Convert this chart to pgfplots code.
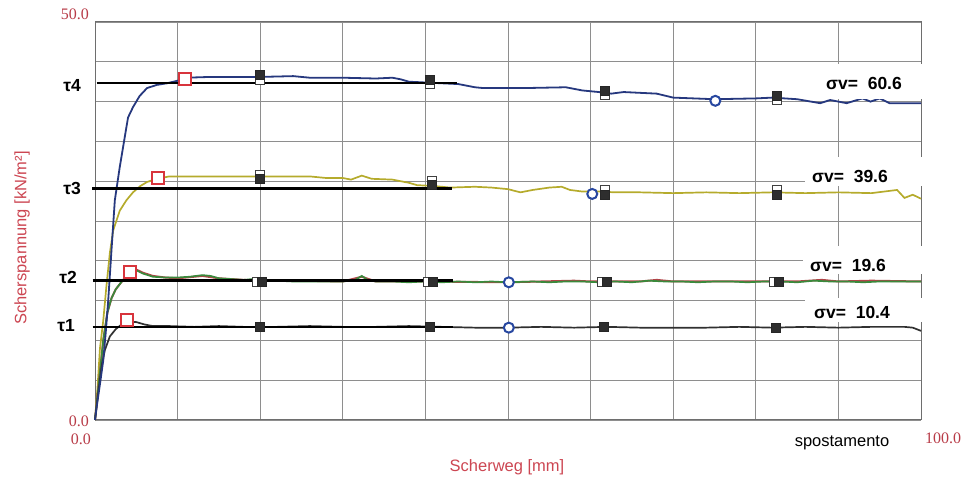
\documentclass[border=0pt]{standalone}
\usepackage{fontspec}
\setmainfont{Liberation Sans}
\newfontfamily\numfont{Liberation Serif}
\usepackage{pgfplots}
\pgfplotsset{compat=1.18}

\definecolor{gridgray}{HTML}{8E8E8E}
\definecolor{framegray}{HTML}{6E6E6E}
\definecolor{titlered}{HTML}{CC4652}
\definecolor{tickred}{HTML}{B83C48}
\definecolor{cA}{HTML}{26387E}% sigma_v = 60.6
\definecolor{cB}{HTML}{B5AB2C}% sigma_v = 39.6
\definecolor{cC}{HTML}{3A8A3C}% sigma_v = 19.6
\definecolor{cCr}{HTML}{B04448}
\definecolor{cD}{HTML}{303030}% sigma_v = 10.4
\definecolor{peakred}{HTML}{D8343C}
\definecolor{ringblue}{HTML}{2747A0}

% place things by picture position (x to the right, y downward from the top)
\newcommand{\px}[2]{({#1pt-95pt},{420pt-#2pt})}
\newcommand{\fs}[1]{\fontsize{#1}{#1}\selectfont}

\begin{document}
\begin{tikzpicture}
\path[use as bounding box] (-95pt,-61pt) rectangle (869pt,420pt);
\begin{axis}[
  at={(0pt,0pt)}, anchor=south west,
  scale only axis, width=826pt, height=398pt,
  xmin=0, xmax=100, ymin=0, ymax=50,
  xtick={0,10,...,100}, ytick={0,5,...,50},
  xticklabels={}, yticklabels={},
  major tick length=0pt,
  grid=major,
  major grid style={gridgray, line width=0.9pt},
  axis line style={framegray, line width=1pt},
  clip=false,
]
% shear curves
\addplot[cB, line width=1.7pt] coordinates {
(0,0)(0.3,4)(0.6,9)(1.0,12.5)(1.4,17)(1.8,21)(2.2,23.8)(3,26.3)(3.8,27.6)(4.6,28.6)(5.5,29.4)(6.3,29.9)(7.5,30.3)(9,30.6)
(14,30.6)(20,30.6)(24,30.6)(26,30.6)(28,30.4)(30,30.4)(31,30.2)(32.3,30.7)(33.5,30.3)(36,30.2)(38,29.8)(39,29.5)(41,29.4)
(43,29.2)(46,29.3)(48,29.2)(50,29.0)(51.5,28.6)(53,28.9)(55,29.2)(56.5,29.3)(57.5,28.9)(59,28.7)(61,28.7)(63,28.6)(66,28.6)
(70,28.5)(74,28.6)(78,28.5)(82,28.6)(86,28.5)(90,28.6)(94,28.5)(97.1,28.9)(98,27.9)(99,28.3)(100,27.8)};
\addplot[cCr, line width=2pt] coordinates {
(0,0)(0.5,5)(1,10)(1.5,13.5)(2,15.3)(2.5,16.4)(3.4,17.6)(4.2,18.5)(5,18.9)(5.8,18.5)(7,18.1)(8.5,17.9)(10,17.8)
(12,18.0)(13,18.1)(15,17.8)(18,17.6)(20,17.5)(25,17.5)(30,17.4)(32.3,18.0)(34,17.4)(40,17.4)(50,17.3)(58,17.5)(60,17.4)
(66,17.4)(68,17.6)(70,17.4)(85,17.4)(88,17.6)(90,17.4)(94,17.5)(100,17.4)};
\addplot[cC, line width=1.7pt] coordinates {
(0,0)(0.5,5)(1,10)(1.5,13.5)(2,15.3)(2.5,16.4)(3.4,17.6)(4.2,18.5)(5,18.8)(5.8,18.4)(7,18.0)(8.5,17.9)(10,17.9)
(11.5,18.0)(13,18.2)(14,18.1)(15,17.8)(16.5,17.7)(18,17.6)(19,17.7)(20,17.5)(22,17.5)(24,17.4)(26,17.4)(28,17.4)(30,17.4)
(31.5,17.6)(32.3,18.1)(33,17.6)(34,17.4)(36,17.4)(38,17.3)(40,17.4)(42,17.3)(44,17.4)(46,17.3)(48,17.4)(50,17.3)(53,17.4)
(55,17.3)(57,17.4)(59,17.4)(61,17.3)(63,17.4)(65,17.3)(67,17.5)(69,17.4)(71,17.4)(73,17.3)(75,17.4)(77,17.4)(79,17.3)
(81,17.4)(83,17.4)(85,17.3)(87,17.5)(89,17.4)(91,17.4)(93,17.3)(95,17.4)(97,17.4)(100,17.4)};
\addplot[cD, line width=1.7pt] coordinates {
(0,0)(0.4,3.5)(0.8,6.8)(1.2,8.8)(1.8,10.5)(2.5,11.4)(3.2,12.0)(3.9,12.3)(5,12.3)(6,12.0)(7,11.8)(9,11.8)(12,11.7)
(15,11.8)(18,11.7)(22,11.7)(26,11.8)(30,11.7)(34,11.7)(38,11.8)(42,11.7)(46,11.6)(50,11.6)(54,11.7)(58,11.6)(62,11.7)
(66,11.6)(70,11.6)(74,11.6)(78,11.7)(82,11.6)(86,11.7)(90,11.6)(94,11.7)(98,11.7)(99,11.6)(100,11.2)};
\addplot[cA, line width=1.8pt] coordinates {
(0,0)(0.2,1.6)(0.6,4.5)(1.0,7.5)(1.3,11)(1.6,15)(2.0,21.4)(2.4,27.6)(3.0,31.8)(4.0,38)(4.6,39.3)(5.4,40.7)(6.3,41.7)
(7.5,42.1)(8.7,42.3)(10.3,42.7)(11,43.0)(14,43.1)(20,43.1)(24,43.2)(26,43.0)(30,43.0)(34,42.9)(36,43.0)(37,42.8)(38,42.5)
(40,42.4)(42,42.3)(44,42.2)(46,41.8)(47,41.7)(52,41.7)(57,41.8)(59,41.4)(61,41.2)(62.5,41.0)(64,41.2)(66,41.1)(68,41.0)
(70,40.5)(75,40.3)(80,40.4)(82,40.5)(85,40.3)(87.8,39.8)(89,40.2)(91,39.8)(92.9,40.4)(93.9,40.0)(95,40.4)(96.2,39.8)
(98,39.8)(100,39.8)};
% residual shear strength levels
\addplot[black, line width=2.4pt] coordinates {(0.2,42.3)(43.8,42.3)};
\addplot[black, line width=2.4pt] coordinates {(-0.35,29.1)(43.2,29.1)};
\addplot[black, line width=2.4pt] coordinates {(-0.3,17.5)(43.3,17.5)};
\addplot[black, line width=2.4pt] coordinates {(-0.3,11.7)(43.3,11.7)};
% open / filled reading marks
\addplot[only marks, mark=square*, mark size=4.5pt,
  mark options={draw=black!75, fill=white, line width=0.8pt}] coordinates {
(20,42.7)(40.6,42.2)(61.7,40.8)(82.6,40.2)
(20,30.8)(40.8,30.0)(61.7,28.9)(82.5,28.9)
(19.6,17.4)(40.3,17.4)(61.4,17.3)(82.2,17.3)};
\addplot[only marks, mark=square*, mark size=4.5pt,
  mark options={draw=black!85, fill=black!82, line width=0.8pt}] coordinates {
(20,43.3)(40.6,42.7)(61.7,41.3)(82.6,40.7)
(20,30.3)(40.8,29.5)(61.7,28.3)(82.5,28.3)
(20.2,17.4)(40.9,17.4)(62.0,17.3)(82.8,17.3)
(20,11.7)(40.6,11.7)(61.6,11.7)(82.4,11.6)};
% peak values
\addplot[only marks, mark=square*, mark size=6pt,
  mark options={draw=peakred, fill=white, line width=1.8pt}] coordinates {
(10.9,42.8)(7.6,30.4)(4.2,18.6)(3.9,12.6)};
% end of test
\addplot[only marks, mark=*, mark size=5pt,
  mark options={draw=ringblue, fill=white, line width=2pt}] coordinates {
(75.1,40.1)(60.2,28.4)(50.1,17.3)(50.1,11.6)};
\end{axis}

% level labels
\begin{scope}[every node/.style={font=\bfseries\fs{17.5}, inner sep=0pt}]
\node[anchor=east] at \px{81}{86} {τ4};
\node[anchor=east] at \px{81}{188} {τ3};
\node[anchor=east] at \px{77}{277} {τ2};
\node[anchor=east] at \px{75}{326} {τ1};
\end{scope}

% normal stress labels on white patches
\fill[white] \px{806}{64} rectangle \px{935}{99};
\fill[white] \px{805}{157} rectangle \px{935}{186};
\fill[white] \px{803}{246} rectangle \px{935}{274};
\fill[white] \px{805}{298} rectangle \px{935}{322};
\begin{scope}[every node/.style={font=\bfseries\fs{17.5}, inner sep=0pt}]
\node at \px{864}{83} {σv=\ \ 60.6};
\node at \px{850}{176} {σv=\ \ 39.6};
\node at \px{848}{265} {σv=\ \ 19.6};
\node at \px{852}{312} {σv=\ \ 10.4};
\end{scope}

% scale limits
\begin{scope}[every node/.style={font=\numfont\fs{16}, text=tickred, inner sep=0pt}]
\node at \px{75}{14} {50.0};
\node at \px{79}{421} {0.0};
\node at \px{81}{439} {0.0};
\node at \px{943}{438} {100.0};
\end{scope}

% axis titles
\node[font=\fs{16.5}, text=titlered, rotate=90, inner sep=0pt] at \px{22}{238} {Scherspannung [kN/m²]};
\node[font=\fs{16.5}, text=titlered, inner sep=0pt] at \px{507}{467} {Scherweg [mm]};
\node[font=\fs{16.5}, inner sep=0pt] at \px{842}{443} {spostamento};
\end{tikzpicture}
\end{document}
